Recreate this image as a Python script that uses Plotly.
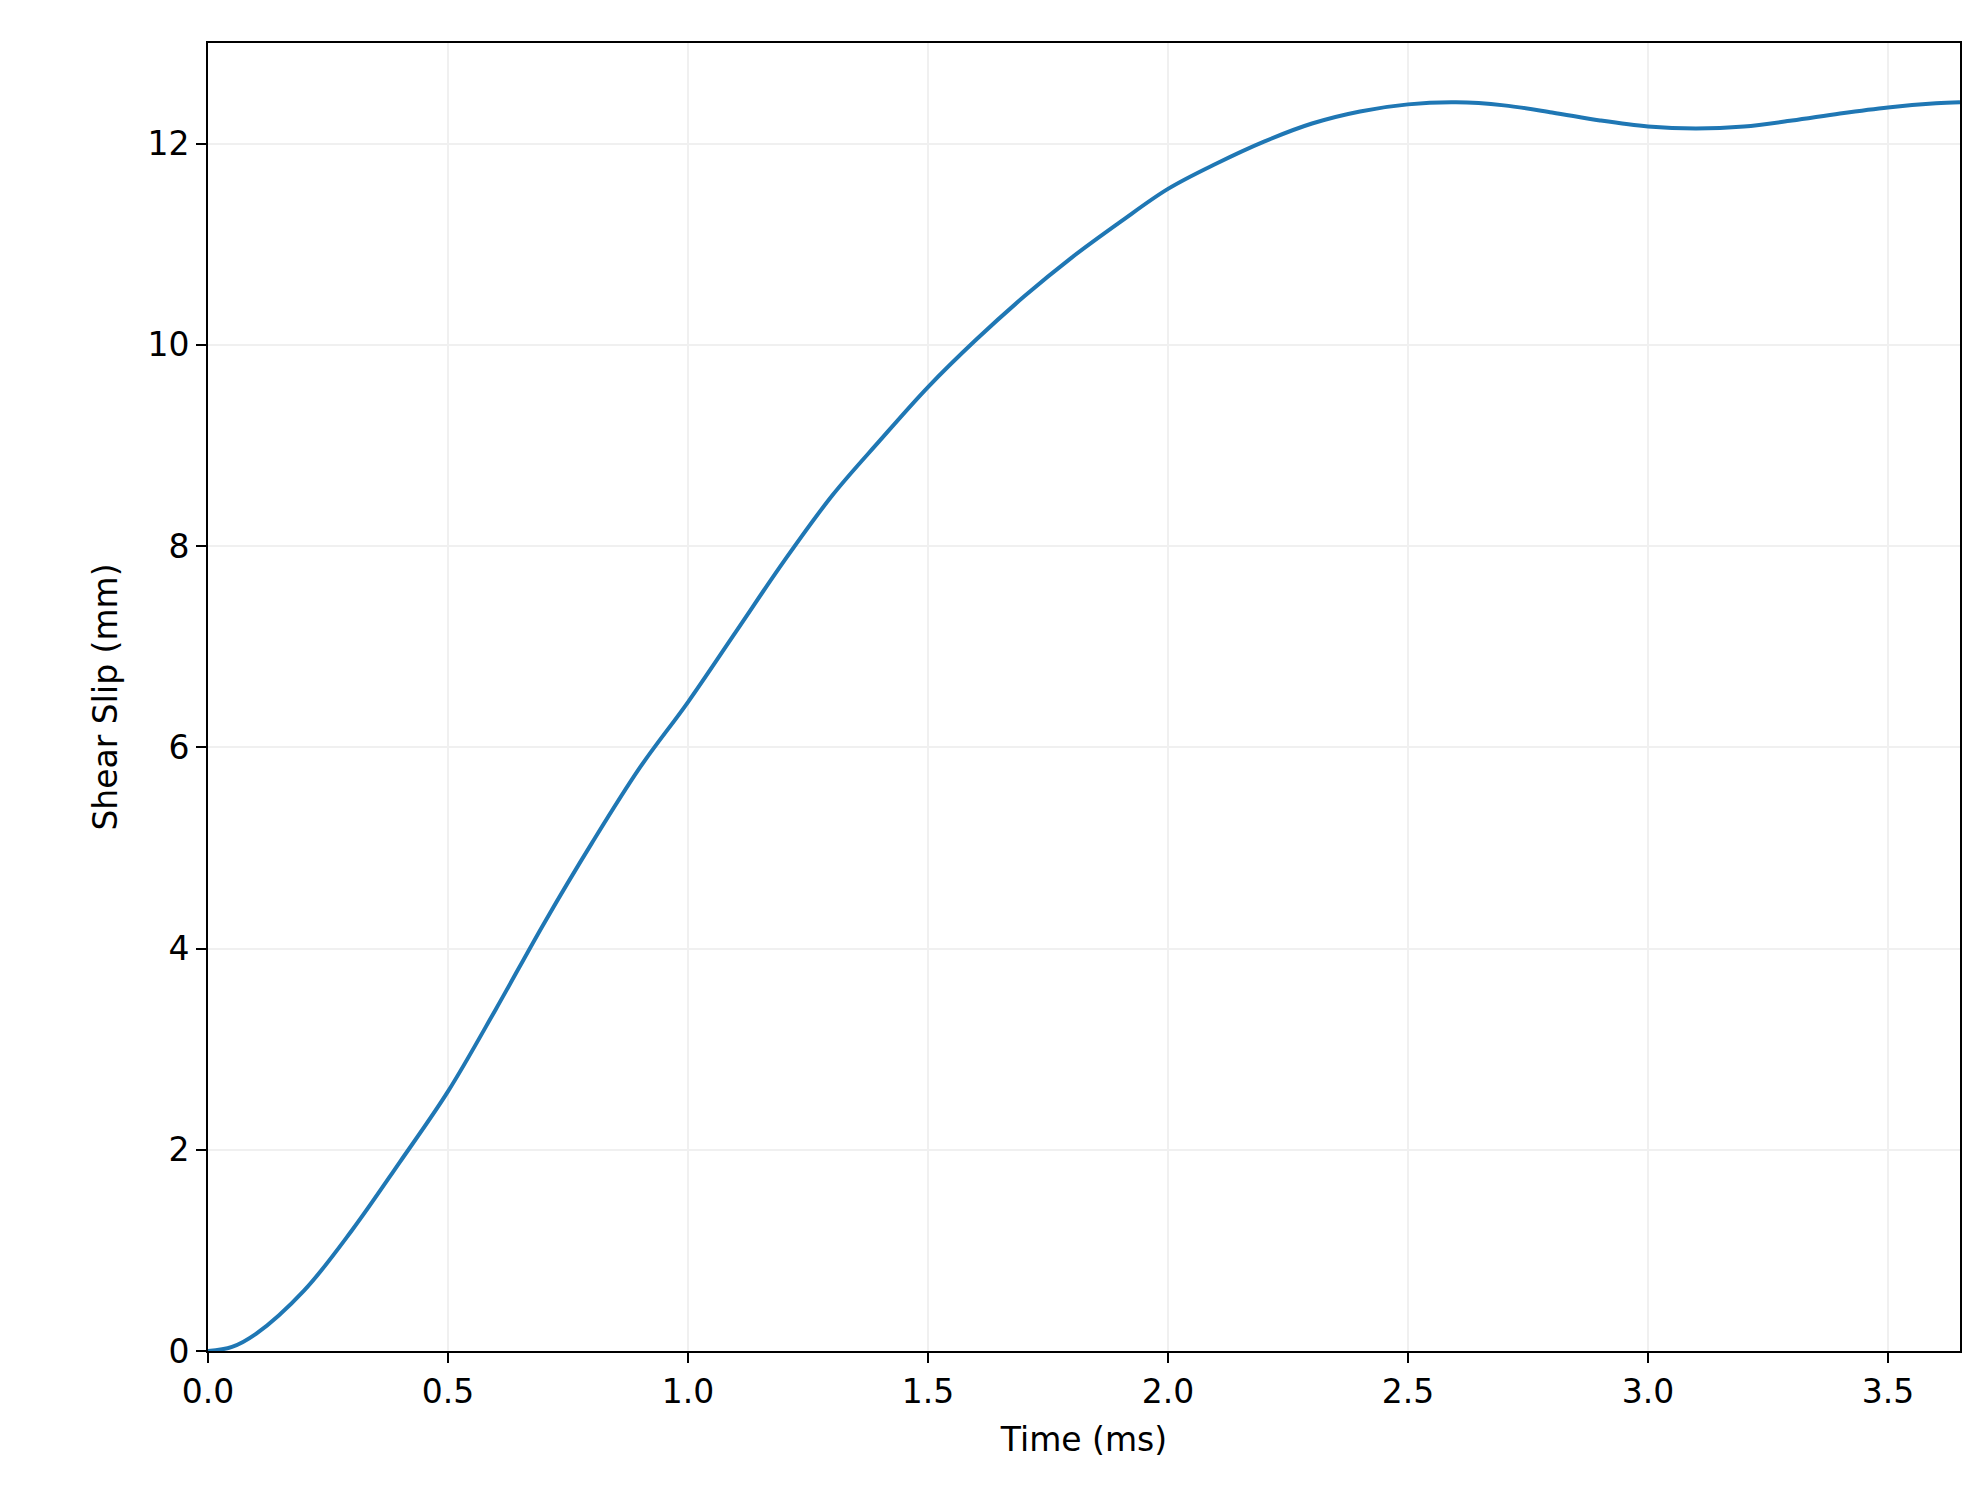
import plotly.graph_objects as go

time_ms = [0, 0.05, 0.1, 0.2, 0.3, 0.4, 0.5, 0.6, 0.7, 0.8, 0.9, 1.0, 1.1, 1.2, 1.3, 1.4, 1.5,
           1.6, 1.7, 1.8, 1.9, 2.0, 2.1, 2.2, 2.3, 2.4, 2.5, 2.6, 2.7, 2.8, 2.9, 3.0,
           3.1, 3.2, 3.3, 3.4, 3.5, 3.6, 3.65]
slip_mm = [0, 0.04, 0.17, 0.6, 1.2, 1.88, 2.58, 3.4, 4.25, 5.05, 5.8, 6.45, 7.15, 7.85, 8.5, 9.05, 9.58,
           10.05, 10.48, 10.87, 11.22, 11.55, 11.8, 12.02, 12.2, 12.32, 12.39, 12.41, 12.38, 12.31, 12.23, 12.17,
           12.15, 12.17, 12.23, 12.3, 12.36, 12.4, 12.41]

fig = go.Figure(go.Scatter(x=time_ms, y=slip_mm, mode="lines",
                           line=dict(color="#1f77b4", width=4, shape="spline")))

font = dict(family="DejaVu Sans", size=33, color="black")
axis = dict(showline=True, linecolor="black", linewidth=2, mirror=True, ticks="outside",
            ticklen=10, tickwidth=2, tickcolor="black", showgrid=True, gridcolor="#f0f0f0",
            gridwidth=1.5, zeroline=False, tickfont=font)
fig.update_layout(
    width=1971, height=1510, plot_bgcolor="white", paper_bgcolor="white",
    margin=dict(l=200, r=19, t=35, b=167), showlegend=False, font=font,
    xaxis=dict(range=[0, 3.65], dtick=0.5, tickformat=".1f",
               title=dict(text="Time (ms)", font=font, standoff=18), **axis),
    yaxis=dict(range=[0, 13], tickvals=[0, 2, 4, 6, 8, 10, 12],
               title=dict(text="Shear Slip (mm)", font=font, standoff=20), **axis),
)
fig.write_html("out.html")
